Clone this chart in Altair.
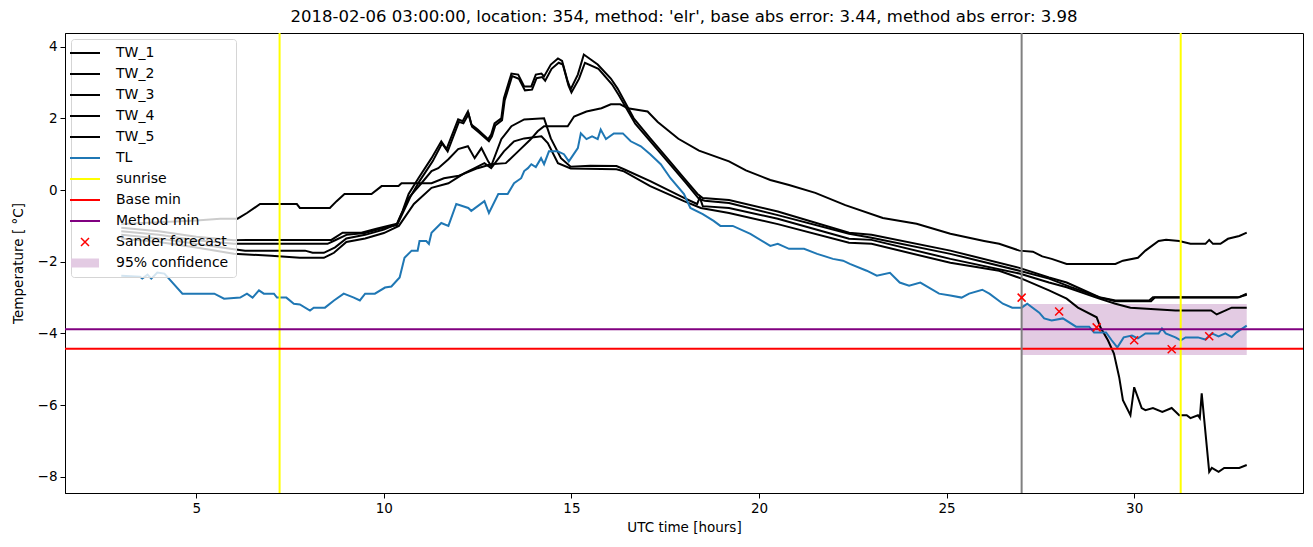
import altair as alt
import pandas as pd

# ---------------- data ----------------
TW_1 = [(3.0,-0.95),(4.0,-0.9),(5.0,-0.85),(5.64,-0.8),(6.1,-0.8),(6.35,-0.64),(6.7,-0.39),(7.68,-0.39),(7.76,-0.5),
        (8.56,-0.5),(8.74,-0.31),(8.95,-0.11),(9.67,-0.11),(9.94,0.11),(10.39,0.11),(10.47,0.19),(11.27,0.19),(11.6,0.33),
        (12.0,0.4),(12.5,0.61),(12.86,0.72),(13.25,0.75),(13.6,1.1),(13.9,1.4),(14.1,1.64),(14.27,1.78),(14.9,1.78),
        (15.07,2.05),(15.4,2.19),(15.8,2.28),(16.05,2.39),(16.3,2.39),(16.5,2.28),(17.03,2.19),(17.3,1.9),(17.85,1.43),
        (18.4,1.1),(19.2,0.8),(19.65,0.55),(20.3,0.28),(20.8,0.14),(21.5,-0.08),(22.3,-0.42),(23.3,-0.78),(24.2,-0.94),
        (25.1,-1.22),(26.0,-1.42),(26.4,-1.5),(26.94,-1.69),(27.3,-1.72),(27.55,-1.85),(27.8,-1.92),(28.2,-2.06),
        (29.5,-2.06),(29.7,-1.97),(30.1,-1.89),(30.3,-1.69),(30.65,-1.42),(30.85,-1.39),(31.2,-1.42),(31.5,-1.5),
        (31.9,-1.5),(32.0,-1.39),(32.1,-1.5),(32.3,-1.5),(32.5,-1.36),(32.8,-1.28),(33.0,-1.19)]

TW_2 = [(3.0,-1.05),(4.0,-1.15),(5.0,-1.3),(6.0,-1.4),(6.35,-1.39),(8.6,-1.39),(8.9,-1.19),(9.4,-1.19),(9.8,-1.08),
        (10.1,-1.0),(10.35,-0.94),(10.5,-0.58),(10.66,-0.11),(10.92,0.33),(11.27,0.89),(11.53,1.36),(11.67,1.14),
        (11.98,1.97),(12.1,1.92),(12.24,2.19),(12.33,1.83),(12.5,1.69),(12.78,1.42),(12.86,1.55),(12.95,1.86),
        (13.13,2.0),(13.2,2.56),(13.4,3.25),(13.58,3.22),(13.74,2.89),(13.93,2.89),(14.05,3.22),(14.2,3.25),
        (14.27,3.17),(14.45,3.5),(14.64,3.67),(14.75,3.6),(14.9,3.03),(14.98,2.81),(15.17,3.22),(15.33,3.78),
        (15.7,3.5),(16.05,3.11),(16.23,2.83),(16.66,2.0),(17.1,1.44),(17.55,0.89),(18.0,0.33),(18.36,-0.11),
        (18.5,-0.22),(19.2,-0.28),(20.5,-0.6),(22.4,-1.19),(23.0,-1.25),(25.1,-1.69),(26.94,-2.17),(27.73,-2.44),
        (28.2,-2.58),(29.07,-2.99),(29.5,-3.08),(30.4,-3.08),(30.5,-2.99),(32.8,-2.99),(33.0,-2.89)]

TW_3 = [(3.0,-1.15),(4.0,-1.25),(5.0,-1.4),(6.0,-1.5),(8.5,-1.5),(8.7,-1.4),(9.0,-1.25),(9.5,-1.2),(10.0,-1.05),
        (10.35,-0.98),(10.5,-0.65),(10.7,-0.2),(10.95,0.25),(11.3,0.8),(11.55,1.3),(11.7,1.08),(12.0,1.9),(12.12,1.86),
        (12.26,2.12),(12.35,1.77),(12.52,1.62),(12.8,1.36),(12.88,1.5),(12.97,1.8),(13.15,1.95),(13.22,2.5),
        (13.42,3.18),(13.6,3.1),(13.76,2.78),(13.95,2.8),(14.07,3.12),(14.22,3.15),(14.3,3.05),(14.47,3.38),
        (14.66,3.55),(14.77,3.5),(14.92,2.92),(15.0,2.72),(15.2,3.1),(15.36,3.55),(15.72,3.38),(16.08,2.95),
        (16.26,2.65),(16.7,1.85),(17.15,1.3),(17.6,0.75),(18.05,0.2),(18.4,-0.25),(18.55,-0.3),(19.2,-0.36),
        (20.5,-0.7),(22.4,-1.22),(23.0,-1.33),(25.1,-1.78),(26.94,-2.25),(27.73,-2.47),(28.3,-2.7),(29.1,-3.0),
        (29.5,-3.1),(30.45,-3.1),(30.55,-3.0),(32.75,-3.0),(33.0,-2.92)]

TW_4 = [(3.0,-1.25),(4.0,-1.35),(5.0,-1.5),(6.0,-1.65),(6.3,-1.69),(7.9,-1.69),(8.1,-1.75),(8.4,-1.75),(8.7,-1.6),
        (9.0,-1.35),(9.5,-1.25),(10.0,-1.1),(10.35,-0.95),(10.66,-0.22),(11.0,0.19),(11.27,0.53),(11.45,0.61),
        (11.72,0.86),(11.98,1.14),(12.24,1.22),(12.42,0.89),(12.6,1.17),(12.78,0.8),(12.86,0.67),(13.13,1.42),
        (13.4,1.78),(13.74,1.97),(14.27,2.0),(14.45,1.44),(14.72,0.89),(14.98,0.65),(15.5,0.68),(16.2,0.67),
        (16.4,0.58),(17.1,0.25),(18.0,-0.22),(18.35,-0.39),(18.42,-0.2),(18.5,-0.45),(19.2,-0.5),(20.5,-0.8),
        (22.4,-1.36),(23.0,-1.39),(25.1,-1.92),(26.94,-2.33),(27.73,-2.58),(28.2,-2.71),(29.07,-3.03),(29.5,-3.17),
        (29.9,-3.28),(31.1,-3.36),(32.05,-3.36),(32.2,-3.47),(32.35,-3.4),(32.6,-3.28),(33.0,-3.28)]

TW_5 = [(3.0,-1.35),(4.0,-1.45),(5.0,-1.6),(6.0,-1.78),(7.0,-1.83),(7.76,-1.89),(8.4,-1.89),(8.67,-1.75),(9.0,-1.45),
        (9.5,-1.35),(10.0,-1.2),(10.4,-1.0),(10.8,-0.39),(11.27,0.06),(11.72,0.19),(12.15,0.47),(12.42,0.61),
        (12.68,0.75),(12.86,0.61),(13.2,1.08),(13.47,1.36),(13.74,1.44),(14.2,1.5),(14.37,1.31),(14.64,0.75),
        (14.98,0.6),(16.2,0.58),(16.4,0.52),(17.1,0.11),(18.0,-0.31),(18.45,-0.5),(19.2,-0.64),(20.5,-0.95),
        (22.4,-1.47),(23.0,-1.5),(25.1,-2.03),(26.4,-2.25),(27.0,-2.47),(27.73,-2.8),(28.2,-3.03),(28.5,-3.28),
        (29.0,-3.55),(29.1,-3.83),(29.3,-4.19),(29.46,-4.56),(29.6,-5.22),(29.7,-5.86),(29.9,-6.28),(30.0,-5.5),
        (30.2,-6.08),(30.3,-6.14),(30.5,-6.08),(30.75,-6.19),(31.0,-6.08),(31.2,-6.28),(31.4,-6.28),(31.5,-6.36),
        (31.7,-6.28),(31.75,-6.36),(31.8,-5.67),(32.0,-7.86),(32.07,-7.75),(32.25,-7.86),(32.4,-7.75),(32.8,-7.75),
        (33.0,-7.67)]

TL = [(3.0,-2.39),(3.5,-2.42),(3.56,-2.47),(3.7,-2.36),(3.8,-2.47),(3.96,-2.3),(4.15,-2.33),(4.63,-2.89),(5.48,-2.89),
      (5.74,-3.03),(6.17,-3.0),(6.35,-2.89),(6.5,-3.0),(6.67,-2.8),(6.8,-2.89),(7.07,-2.89),(7.15,-3.0),(7.4,-3.0),
      (7.6,-3.17),(7.76,-3.19),(8.03,-3.36),(8.13,-3.28),(8.43,-3.28),(8.67,-3.08),(8.93,-2.89),(9.2,-3.0),
      (9.36,-3.08),(9.5,-2.89),(9.76,-2.89),(10.03,-2.72),(10.2,-2.69),(10.42,-2.44),(10.55,-1.89),(10.74,-1.69),
      (10.9,-1.69),(10.95,-1.42),(11.13,-1.42),(11.2,-1.5),(11.27,-1.19),(11.53,-0.92),(11.72,-1.0),(11.93,-0.39),
      (12.25,-0.5),(12.33,-0.58),(12.68,-0.31),(12.8,-0.64),(13.05,-0.11),(13.3,-0.11),(13.47,0.19),(13.66,0.33),
      (13.74,0.53),(13.84,0.61),(13.93,0.72),(14.05,0.64),(14.19,0.89),(14.27,0.72),(14.4,1.08),(14.63,1.08),
      (14.8,1.0),(14.93,0.8),(15.17,1.17),(15.25,1.58),(15.4,1.42),(15.55,1.5),(15.7,1.42),(15.78,1.69),(15.92,1.42),
      (16.13,1.58),(16.37,1.58),(16.58,1.36),(16.85,1.22),(17.1,1.0),(17.38,0.72),(17.64,0.33),(18.0,-0.11),
      (18.17,-0.5),(18.5,-0.67),(18.79,-0.86),(18.97,-1.0),(19.3,-1.0),(19.77,-1.22),(20.3,-1.56),(20.5,-1.5),
      (20.8,-1.64),(21.2,-1.64),(21.55,-1.78),(21.97,-1.92),(22.24,-1.97),(22.42,-2.06),(22.87,-2.25),(23.14,-2.39),
      (23.49,-2.31),(23.75,-2.58),(24.0,-2.67),(24.3,-2.58),(24.8,-2.89),(25.1,-2.94),(25.4,-3.0),(25.6,-2.89),
      (25.95,-2.78),(26.14,-2.89),(26.5,-3.17),(26.75,-3.28),(27.0,-3.28),(27.15,-3.17),(27.47,-3.42),(27.6,-3.58),
      (27.8,-3.64),(28.1,-3.58),(28.45,-3.81),(28.8,-3.81),(28.93,-3.97),(29.25,-3.97),(29.4,-4.19),(29.55,-4.39),
      (29.72,-4.11),(29.94,-4.06),(30.1,-4.14),(30.3,-4.0),(30.65,-4.0),(30.74,-3.86),(30.84,-4.0),(31.1,-4.11),
      (31.24,-4.19),(31.37,-4.11),(31.7,-4.11),(31.9,-4.17),(32.07,-4.0),(32.25,-4.08),(32.43,-4.0),(32.6,-4.1),
      (32.73,-3.97),(33.0,-3.78)]

SUNRISE_HOURS = [7.22, 31.24]
FORECAST_TIME = [27.0]
BASE_MIN = -4.43
METHOD_MIN = -3.88
SANDER_HOURS = [27, 28, 29, 30, 31, 32]
SANDER_VALUES = [-3.0, -3.39, -3.83, -4.19, -4.44, -4.08]
CONF_START, CONF_END = 27.0, 33.0
CONF_LOW, CONF_HIGH = -4.6, -3.18

LEGEND_LABELS = ["TW_1", "TW_2", "TW_3", "TW_4", "TW_5", "TL", "sunrise", "Base min",
                 "Method min", "Sander forecast", "95% confidence"]
LEGEND_COLORS = ["black", "black", "black", "black", "black", "#1f77b4", "#ffff00", "#ff0000",
                 "#800080", "#ff0000", "#e3cbe3"]

TITLE = "2018-02-06 03:00:00, location: 354, method: 'elr', base abs error: 3.44, method abs error: 3.98"

# ---------------- tables ----------------
rows = []
for name, pts in [("TW_1", TW_1), ("TW_2", TW_2), ("TW_3", TW_3), ("TW_4", TW_4), ("TW_5", TW_5), ("TL", TL)]:
    for i, (h, v) in enumerate(pts):
        rows.append({"hour": h, "value": v, "series": name, "order": i})
lines_df = pd.DataFrame(rows)
sunrise_df = pd.DataFrame({"hour": SUNRISE_HOURS, "series": "sunrise"})
fc_df = pd.DataFrame({"hour": FORECAST_TIME})
hmin_df = pd.DataFrame({"value": [BASE_MIN, METHOD_MIN], "series": ["Base min", "Method min"]})
sander_df = pd.DataFrame({"hour": SANDER_HOURS, "value": SANDER_VALUES, "series": "Sander forecast"})
conf_df = pd.DataFrame({"x1": [CONF_START], "x2": [CONF_END], "y1": [CONF_LOW], "y2": [CONF_HIGH],
                        "series": ["95% confidence"]})

FONT = "DejaVu Sans"
xscale = alt.Scale(domain=[1.5, 34.5], nice=False, zero=False)
yscale = alt.Scale(domain=[-8.45, 4.38], nice=False, zero=False)

shape_expr = ("datum.value === 'Sander forecast' ? 'M-0.8,-0.8L0.8,0.8M-0.8,0.8L0.8,-0.8' : "
              "(datum.value === '95% confidence' ? 'M-2.8,-0.9H2.8V0.9H-2.8Z' : 'M-3,0H3')")
fill_expr = "datum.value === '95% confidence' ? '#e3cbe3' : 'transparent'"
stroke_expr = "datum.value === '95% confidence' ? 'transparent' : scale('color', datum.value)"
width_expr = "datum.value === '95% confidence' ? 0 : (datum.value === 'Sander forecast' ? 1.5 : 2)"

color = alt.Color(
    "series:N",
    scale=alt.Scale(domain=LEGEND_LABELS, range=LEGEND_COLORS),
    legend=alt.Legend(
        title=None, orient="top-left", offset=6,
        symbolType=alt.ExprRef(expr=shape_expr),
        symbolFillColor=alt.ExprRef(expr=fill_expr),
        symbolStrokeColor=alt.ExprRef(expr=stroke_expr),
        symbolStrokeWidth=alt.ExprRef(expr=width_expr),
        symbolSize=100, symbolOpacity=1,
        labelFont=FONT, labelFontSize=14, labelColor="black", labelOffset=24,
        rowPadding=7, padding=7, fillColor="rgba(255,255,255,0.8)", strokeColor="#d5d5d5",
        cornerRadius=3,
    ),
)

x_axis = alt.Axis(title="UTC time [hours]", values=[5, 10, 15, 20, 25, 30], titlePadding=6)
y_axis = alt.Axis(title="Temperature [ °C]", values=[-8, -6, -4, -2, 0, 2, 4], titlePadding=12)

band = alt.Chart(conf_df).mark_rect(opacity=1).encode(
    x=alt.X("x1:Q", scale=xscale, axis=x_axis), x2="x2:Q",
    y=alt.Y("y1:Q", scale=yscale, axis=y_axis), y2="y2:Q",
    color=color,
)

lines = alt.Chart(lines_df).mark_line(strokeWidth=2).encode(
    x=alt.X("hour:Q", scale=xscale), y=alt.Y("value:Q", scale=yscale),
    color=color, detail="series:N", order="order:Q",
)

sunrise = alt.Chart(sunrise_df).mark_rule(strokeWidth=2).encode(
    x=alt.X("hour:Q", scale=xscale), color=color,
)

fc_line = alt.Chart(fc_df).mark_rule(strokeWidth=2, color="gray").encode(
    x=alt.X("hour:Q", scale=xscale),
)

hmins = alt.Chart(hmin_df).mark_rule(strokeWidth=2).encode(
    y=alt.Y("value:Q", scale=yscale), color=color,
)

sander = alt.Chart(sander_df).mark_point(
    shape="M-1,-1L1,1M-1,1L1,-1", size=64, filled=False, strokeWidth=1.5, opacity=1
).encode(
    x=alt.X("hour:Q", scale=xscale), y=alt.Y("value:Q", scale=yscale), color=color,
)

chart = alt.layer(band, lines, sunrise, hmins, fc_line, sander).properties(
    width=1238, height=460,
    background="white",
    title=alt.TitleParams(text=TITLE, font=FONT, fontSize=16.5, fontWeight="normal",
                          anchor="middle", offset=7, color="black"),
    autosize=alt.AutoSizeParams(type="none"),
    padding={"left": 65, "top": 33, "right": 10, "bottom": 54},
).configure_view(stroke="black", strokeWidth=1).configure_axis(
    grid=False, domainColor="black", tickColor="black", labelColor="black", titleColor="black",
    labelFont=FONT, titleFont=FONT, labelFontSize=13.5, titleFontSize=13.5, titleFontWeight="normal",
    tickSize=5, labelPadding=3,
)

chart.save("out.html", embed_options={"renderer": "svg", "actions": False})
